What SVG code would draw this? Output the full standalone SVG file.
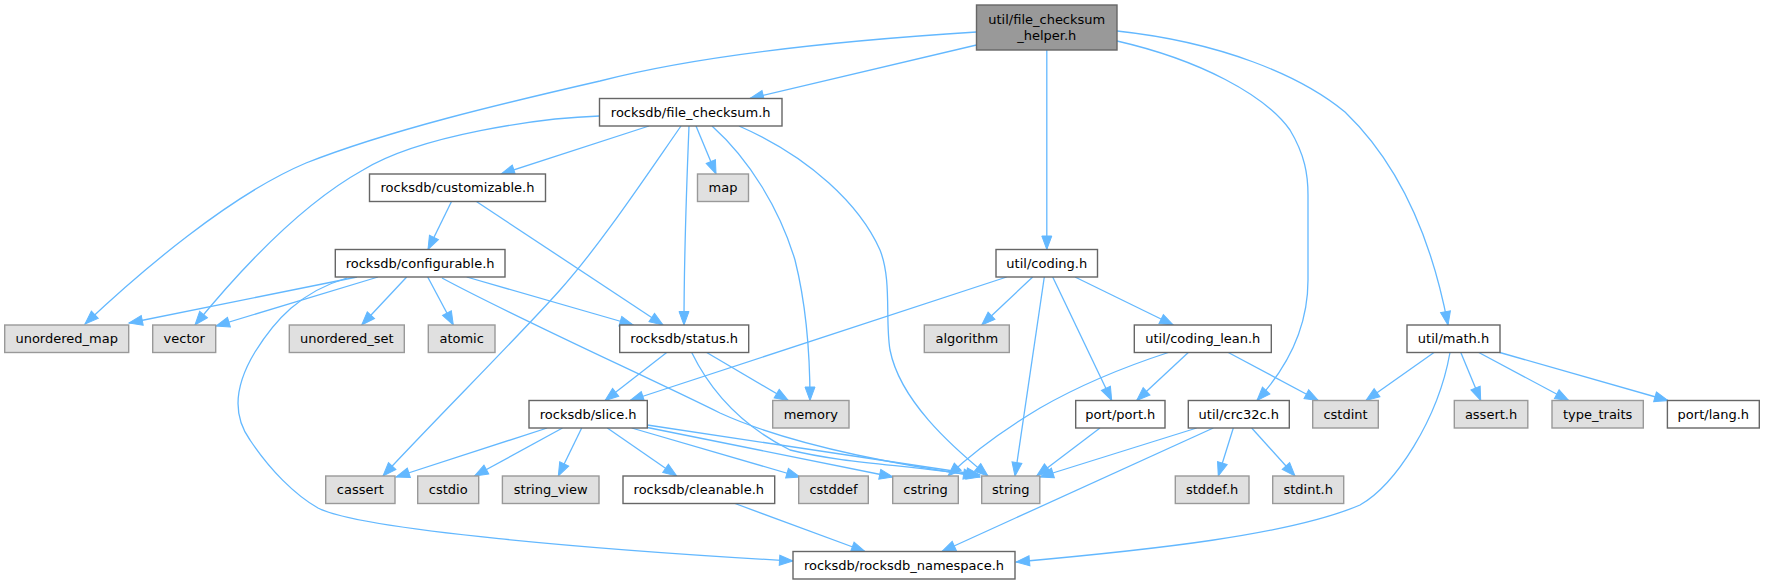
<svg xmlns="http://www.w3.org/2000/svg" width="1765" height="585" viewBox="0 0 1765 585">
<style>
.e{fill:none;stroke:#63b8ff;stroke-width:1.3;marker-end:url(#ah)}
.w{fill:#ffffff;stroke:#666666;stroke-width:1.4}
.g{fill:#e0e0e0;stroke:#999999;stroke-width:1.4}
.r{fill:#999999;stroke:#666666;stroke-width:1.4}
text{font-family:"DejaVu Sans","Liberation Sans",sans-serif;font-size:13px;fill:#000;text-anchor:middle}
</style>
<defs>
<marker id="ah" markerUnits="userSpaceOnUse" markerWidth="16" markerHeight="12" refX="14" refY="5.5" orient="auto" viewBox="0 0 16 12" overflow="visible">
<path d="M0.5,0.5 L14,5.5 L0.5,10.5 z" fill="#63b8ff" stroke="#63b8ff" stroke-width="1"/>
</marker>
</defs>
<rect width="1765" height="585" fill="#ffffff"/>
<g id="edges">
<path class="e" d="M976.5,32 C850,40 700,55 600,81 C500,104 390,130 306,163 C230,195 140,272 85,324"/>
<path class="e" d="M976.5,45 L750,98.5"/>
<path class="e" d="M1046.8,50 L1046.8,249.5"/>
<path class="e" d="M1117,41 C1200,60 1265,95 1290,130 C1305,155 1308,175 1308,195 L1308,280 C1308,330 1285,370 1257,400.5"/>
<path class="e" d="M1117,31 C1220,42 1300,75 1345,112 C1395,160 1430,230 1448,325"/>
<path class="e" d="M599.5,116 C540,118 420,135 363,170 C300,205 240,270 195,325"/>
<path class="e" d="M649,126 L501,174"/>
<path class="e" d="M696,126 L716,174"/>
<path class="e" d="M681,126 C640,185 600,245 560,290 C520,335 430,425 383,476"/>
<path class="e" d="M689,126 C686,200 684,270 684,325"/>
<path class="e" d="M712,126 C750,160 780,210 795,260 C805,300 810,350 810,400.5"/>
<path class="e" d="M739,126 C810,157 860,205 880,250 C892,280 885,320 890,350 C900,400 950,445 988,476"/>
<path class="e" d="M451.5,201.5 L428,249.5"/>
<path class="e" d="M476.4,201.5 L663,325"/>
<path class="e" d="M357,277 L129,323"/>
<path class="e" d="M378,277 L216,326"/>
<path class="e" d="M347,278 C300,292 275,320 255,352 C235,385 232,415 250,440 C270,470 295,495 318,508 C360,530 600,550 793,561"/>
<path class="e" d="M406.7,277 L361.7,325"/>
<path class="e" d="M427.7,277 L453.3,325"/>
<path class="e" d="M466.7,277 L633.3,325"/>
<path class="e" d="M442,278 C520,320 650,378 720,413 C790,445 900,465 977,476"/>
<path class="e" d="M1006.7,277 L630,400.5"/>
<path class="e" d="M1032.7,277 L981.7,325"/>
<path class="e" d="M1044.3,277 L1015,476"/>
<path class="e" d="M1052.7,277 L1111.7,400.5"/>
<path class="e" d="M1075,277 L1173.3,325"/>
<path class="e" d="M666.7,352.5 L605,400.5"/>
<path class="e" d="M706.7,352.5 L788.3,400.5"/>
<path class="e" d="M691.7,352.5 C710,390 740,425 790,450 C850,465 920,465 980,477"/>
<path class="e" d="M1168.3,352.5 C1130,365 1080,385 1040,408 C1000,432 970,455 948,476"/>
<path class="e" d="M1188.3,352.5 L1136.7,400.5"/>
<path class="e" d="M1228.3,352.5 L1318.3,400.5"/>
<path class="e" d="M1434,352.5 L1366,400.5"/>
<path class="e" d="M1460.8,352.5 L1480.7,400.5"/>
<path class="e" d="M1478.8,352.5 L1568.7,400.5"/>
<path class="e" d="M1499.8,352.5 L1668,400.5"/>
<path class="e" d="M1450,352.5 C1438,420 1395,485 1360,505 C1290,535 1150,550 1016,562"/>
<path class="e" d="M547.2,428 L396,477"/>
<path class="e" d="M562.5,428 L474.5,476"/>
<path class="e" d="M581.7,428 L558.3,476"/>
<path class="e" d="M607.3,428 L676.7,476"/>
<path class="e" d="M631.7,428 L800,477"/>
<path class="e" d="M647.3,427.5 L893,477"/>
<path class="e" d="M647.3,425 L980,475"/>
<path class="e" d="M1100,428 L1036.7,476"/>
<path class="e" d="M1196.7,428 L1040,477"/>
<path class="e" d="M1233.3,428 L1218.3,476"/>
<path class="e" d="M1251.7,428 L1295,476"/>
<path class="e" d="M1213.3,428 L942,551.5"/>
<path class="e" d="M735,503.5 L865,551.5"/>
</g>
<g id="n_helper"><rect class="r" x="976.5" y="5" width="140.5" height="45"/><text x="1046.75" y="23.5">util/file_checksum</text><text x="1046.75" y="40">_helper.h</text></g>
<g id="n_file_checksum"><rect class="w" x="599.5" y="98.5" width="182.5" height="27.5"/><text x="690.75" y="116.9">rocksdb/file_checksum.h</text></g>
<g id="n_customizable"><rect class="w" x="369.5" y="174" width="176" height="27.5"/><text x="457.5" y="192.4">rocksdb/customizable.h</text></g>
<g id="n_map"><rect class="g" x="697.5" y="174" width="51" height="27.5"/><text x="723" y="192.4">map</text></g>
<g id="n_configurable"><rect class="w" x="335.3" y="249.5" width="169.7" height="27.5"/><text x="420.15" y="267.9">rocksdb/configurable.h</text></g>
<g id="n_coding"><rect class="w" x="996" y="249.5" width="101.5" height="27.5"/><text x="1046.75" y="267.9">util/coding.h</text></g>
<g id="n_unordered_map"><rect class="g" x="4.7" y="325" width="124" height="27.5"/><text x="66.7" y="343.4">unordered_map</text></g>
<g id="n_vector"><rect class="g" x="152.7" y="325" width="63" height="27.5"/><text x="184.2" y="343.4">vector</text></g>
<g id="n_unordered_set"><rect class="g" x="289.3" y="325" width="115" height="27.5"/><text x="346.8" y="343.4">unordered_set</text></g>
<g id="n_atomic"><rect class="g" x="428.3" y="325" width="66.7" height="27.5"/><text x="461.65" y="343.4">atomic</text></g>
<g id="n_status"><rect class="w" x="619.7" y="325" width="129" height="27.5"/><text x="684.2" y="343.4">rocksdb/status.h</text></g>
<g id="n_algorithm"><rect class="g" x="924.3" y="325" width="85" height="27.5"/><text x="966.8" y="343.4">algorithm</text></g>
<g id="n_coding_lean"><rect class="w" x="1134.3" y="325" width="137" height="27.5"/><text x="1202.8" y="343.4">util/coding_lean.h</text></g>
<g id="n_math"><rect class="w" x="1407" y="325" width="93" height="27.5"/><text x="1453.5" y="343.4">util/math.h</text></g>
<g id="n_slice"><rect class="w" x="529" y="400.5" width="118.3" height="27.5"/><text x="588.15" y="418.9">rocksdb/slice.h</text></g>
<g id="n_memory"><rect class="g" x="772.7" y="400.5" width="76.3" height="27.5"/><text x="810.85" y="418.9">memory</text></g>
<g id="n_port"><rect class="w" x="1075.7" y="400.5" width="89.3" height="27.5"/><text x="1120.35" y="418.9">port/port.h</text></g>
<g id="n_crc32c"><rect class="w" x="1188.3" y="400.5" width="101" height="27.5"/><text x="1238.8" y="418.9">util/crc32c.h</text></g>
<g id="n_cstdint"><rect class="g" x="1312.7" y="400.5" width="65.6" height="27.5"/><text x="1345.5" y="418.9">cstdint</text></g>
<g id="n_assert"><rect class="g" x="1454.3" y="400.5" width="73.5" height="27.5"/><text x="1491.05" y="418.9">assert.h</text></g>
<g id="n_type_traits"><rect class="g" x="1552" y="400.5" width="91.3" height="27.5"/><text x="1597.65" y="418.9">type_traits</text></g>
<g id="n_lang"><rect class="w" x="1667.4" y="400.5" width="91.9" height="27.5"/><text x="1713.35" y="418.9">port/lang.h</text></g>
<g id="n_cassert"><rect class="g" x="325.7" y="476" width="69.3" height="27.5"/><text x="360.35" y="494.4">cassert</text></g>
<g id="n_cstdio"><rect class="g" x="417.7" y="476" width="61" height="27.5"/><text x="448.2" y="494.4">cstdio</text></g>
<g id="n_string_view"><rect class="g" x="502.4" y="476" width="96.6" height="27.5"/><text x="550.7" y="494.4">string_view</text></g>
<g id="n_cleanable"><rect class="w" x="623" y="476" width="151.7" height="27.5"/><text x="698.85" y="494.4">rocksdb/cleanable.h</text></g>
<g id="n_cstddef"><rect class="g" x="798.7" y="476" width="69.6" height="27.5"/><text x="833.5" y="494.4">cstddef</text></g>
<g id="n_cstring"><rect class="g" x="892.7" y="476" width="65.6" height="27.5"/><text x="925.5" y="494.4">cstring</text></g>
<g id="n_string"><rect class="g" x="981.7" y="476" width="58.1" height="27.5"/><text x="1010.75" y="494.4">string</text></g>
<g id="n_stddef"><rect class="g" x="1175.3" y="476" width="73.7" height="27.5"/><text x="1212.15" y="494.4">stddef.h</text></g>
<g id="n_stdint"><rect class="g" x="1272.7" y="476" width="71" height="27.5"/><text x="1308.2" y="494.4">stdint.h</text></g>
<g id="n_namespace"><rect class="w" x="793" y="551.5" width="222" height="27.5"/><text x="904" y="569.9">rocksdb/rocksdb_namespace.h</text></g>
</svg>
